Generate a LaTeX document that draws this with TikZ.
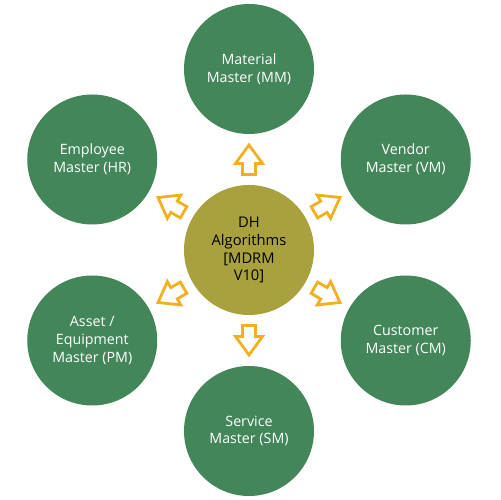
\documentclass[tikz,border=0pt]{standalone}
\usepackage{fontspec}
\setmainfont{Open Sans}
\usetikzlibrary{calc}
\definecolor{dgreen}{RGB}{66,134,90}
\definecolor{olive}{RGB}{168,161,62}
\definecolor{ayellow}{RGB}{242,176,30}
\begin{document}
\begin{tikzpicture}[x=1bp,y=1bp,
  outer/.style={circle,fill=dgreen,minimum size=130bp,inner sep=0pt,text=white,align=center,font=\fontsize{14.3}{17.8}\selectfont},
  hub/.style={circle,fill=olive,minimum size=130bp,inner sep=0pt,text=black,align=center,font=\fontsize{14.8}{18}\selectfont},
  blockarrow/.style={draw=ayellow,fill=white,line width=2.8bp,line join=miter}]
\useasboundingbox (0,0) rectangle (500,500);
\node[hub] (c) at (249,250) {DH\\Algorithms\\{[MDRM}\\V10]};
\node[outer] (mm) at ($(c)+(90:181)$) {Material\\Master (MM)};
\node[outer] (vm) at ($(c)+(30:181)$) {Vendor\\Master (VM)};
\node[outer] (cm) at ($(c)+(-30:181)$) {Customer\\Master (CM)};
\node[outer] (sm) at ($(c)+(-90:181)$) {Service\\Master (SM)};
\node[outer] (pm) at ($(c)+(-150:181)$) {Asset /\\Equipment\\Master (PM)};
\node[outer] (hr) at ($(c)+(150:181)$) {Employee\\Master (HR)};
\foreach \a in {90,30,-30,-90,-150,150}{
  \begin{scope}[shift={($(c)+(\a:90)$)},rotate=\a-90]
    \draw[blockarrow] (0,15) -- (13.5,-3.5) -- (6.5,-3.5) -- (6.5,-14.5) -- (-6.5,-14.5) -- (-6.5,-3.5) -- (-13.5,-3.5) -- cycle;
  \end{scope}
}
\end{tikzpicture}
\end{document}
